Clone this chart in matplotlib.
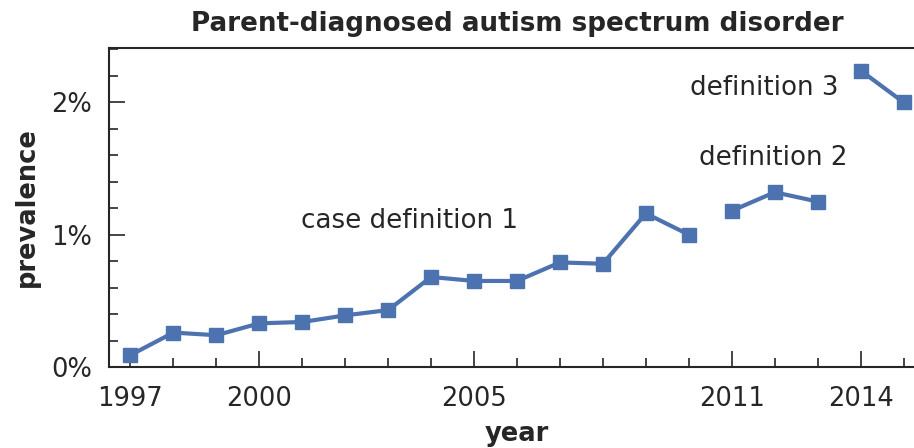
import matplotlib
matplotlib.use("Agg")
import matplotlib.pyplot as plt
from matplotlib.ticker import FuncFormatter, FixedLocator, MultipleLocator

years1 = [1997, 1998, 1999, 2000, 2001, 2002, 2003, 2004, 2005, 2006, 2007, 2008, 2009, 2010]
prev1 = [0.09, 0.26, 0.24, 0.33, 0.34, 0.39, 0.43, 0.68, 0.65, 0.65, 0.79, 0.78, 1.16, 1.00]
years2 = [2011, 2012, 2013]
prev2 = [1.18, 1.32, 1.25]
years3 = [2014, 2015]
prev3 = [2.24, 2.00]
major_years = [1997, 2000, 2005, 2011, 2014]
labels = [("case definition 1", 2003.5, 1.1), ("definition 2", 2011.97, 1.58), ("definition 3", 2011.75, 2.105)]

color = "#4C72B0"
text_c = "#262626"
plt.rcParams['font.family'] = ['DejaVu Sans']

fig = plt.figure(figsize=(9.14, 4.48), dpi=100)
ax = fig.add_axes([109/914, 1-367/448, (925-109)/914, (367-48)/448])

for xs, ys in [(years1, prev1), (years2, prev2), (years3, prev3)]:
    ax.plot(xs, ys, color=color, lw=3, marker='s', ms=10, clip_on=False)

for t, x, y in labels:
    ax.text(x, y, t, fontsize=18.8, color=text_c, ha='center', va='center')

ax.set_xlim(1996.5, 2015.5)
ax.set_ylim(0, 2.41)
ax.xaxis.set_major_locator(FixedLocator(major_years))
ax.xaxis.set_minor_locator(MultipleLocator(1))
ax.yaxis.set_major_locator(MultipleLocator(1))
ax.yaxis.set_minor_locator(MultipleLocator(0.2))
ax.yaxis.set_major_formatter(FuncFormatter(lambda v, p: f"{v:.0f}%"))

ax.tick_params(which='both', direction='in', colors=text_c, labelsize=18.5, width=1.2)
ax.tick_params(which='major', length=11.5)
ax.tick_params(axis='x', which='major', pad=14)
ax.tick_params(axis='y', which='major', pad=12)
ax.tick_params(which='minor', length=6.5)
for s in ['left', 'bottom', 'top']:
    ax.spines[s].set_color(text_c)
    ax.spines[s].set_linewidth(1.5)
ax.spines['right'].set_visible(False)

ax.set_xlabel('year', fontsize=18.5, fontweight='bold', color=text_c, labelpad=6)
ax.set_ylabel('prevalence', fontsize=18.5, fontweight='bold', color=text_c, labelpad=8)
ax.set_title('Parent-diagnosed autism spectrum disorder', fontsize=18.8, fontweight='bold', color=text_c, pad=12)

fig.savefig('out.png', dpi=100)
